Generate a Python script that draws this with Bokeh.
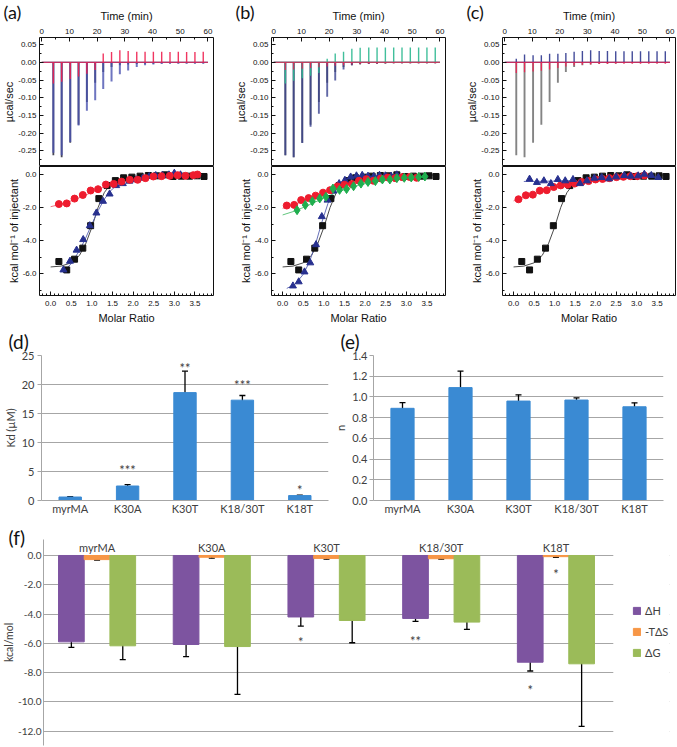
import numpy as np
from bokeh.plotting import figure
from bokeh.layouts import row, column
from bokeh.models import (ColumnDataSource, Range1d, FactorRange, FixedTicker, Title,
                          CustomJSTickFormatter, Whisker, TeeHead, Legend, LegendItem,
                          BoxAnnotation)
from bokeh.transform import dodge
from bokeh.core.properties import value
from bokeh.embed import file_html
from bokeh.resources import INLINE

# ---------------- data: ITC raw thermograms (peak of each injection, ucal/sec) -------------
inj_time = [4.2, 7.2, 10.3, 13.3, 16.3, 19.3, 22.2, 25.2, 28.2, 31.2, 34.3, 37.3, 40.3,
            43.3, 46.3, 49.3, 52.3, 55.3, 58.3]
run_span = [0, 60]
baseline_ucal = 0.0

raw_black = [-0.262, -0.268, -0.227, -0.176, -0.112, -0.058, -0.027, -0.013, -0.008, -0.006,
             -0.005, -0.004, -0.004, -0.003, -0.003, -0.003, -0.003, -0.003, -0.003]
a_raw_blue = [-0.255, -0.262, -0.225, -0.178, -0.137, -0.107, -0.075, -0.054, -0.034, -0.023,
              -0.013, -0.008, -0.006, -0.005, -0.004, -0.004, -0.004, -0.004, -0.004]
a_raw_red = [-0.060, -0.055, -0.047, -0.040, -0.032, -0.022, 0.025, 0.029, 0.034, 0.032,
             0.030, 0.030, 0.030, 0.030, 0.029, 0.030, 0.029, 0.029, 0.030]
b_raw_blue = [-0.262, -0.268, -0.228, -0.182, -0.145, -0.097, -0.051, -0.020, -0.008, -0.005,
              -0.004, -0.004, -0.003, -0.003, -0.003, -0.003, -0.003, -0.003, -0.003]
b_raw_green = [-0.060, -0.052, -0.045, -0.038, -0.030, 0.010, 0.025, 0.030, 0.038, 0.041,
               0.042, 0.042, 0.042, 0.042, 0.042, 0.042, 0.042, 0.042, 0.042]
b_raw_red = [-0.022, -0.020, -0.018, -0.016, -0.014, -0.012, -0.010, -0.008, -0.006, -0.005,
             -0.004, -0.004, -0.003, -0.003, -0.003, -0.003, -0.003, -0.003, -0.003]
c_raw_red = [-0.030, -0.028, -0.026, -0.024, -0.020, -0.016, -0.012, -0.009, -0.007, -0.006,
             -0.005, -0.005, -0.004, -0.004, -0.004, -0.004, -0.004, -0.004, -0.004]
c_raw_blue = [0.010, 0.022, 0.020, 0.020, 0.024, 0.024, 0.026, 0.030, 0.032, 0.034,
              0.032, 0.032, 0.031, 0.031, 0.031, 0.031, 0.031, 0.031, 0.031]

# ---------------- data: integrated heats (kcal/mol of injectant) vs molar ratio -----------
mr_black = [0.20, 0.39, 0.58, 0.78, 0.97, 1.17, 1.37, 1.57, 1.77, 1.97, 2.17, 2.37, 2.57,
            2.77, 2.97, 3.17, 3.37, 3.55, 3.72]
heat_black = [-5.27, -5.78, -5.13, -4.46, -3.10, -1.46, -0.67, -0.37, -0.20, -0.16, -0.10,
              -0.06, -0.08, -0.02, -0.12, -0.10, -0.10, -0.08, -0.12]
fit_black_x = [0.0, 0.25, 0.5, 0.7, 0.85, 1.0, 1.15, 1.3, 1.45, 1.6, 1.8, 2.0, 2.5, 3.0, 3.75]
fit_black_y = [-5.6, -5.55, -5.35, -4.9, -4.2, -3.2, -2.0, -1.1, -0.6, -0.35, -0.2, -0.12,
               -0.06, -0.04, -0.03]

a_mr_blue = [0.31, 0.47, 0.63, 0.79, 0.95, 1.11, 1.27, 1.43, 1.59, 1.75, 1.91, 2.07, 2.23,
             2.39, 2.55, 2.71, 2.87, 3.00, 3.15]
a_heat_blue = [-5.78, -5.25, -4.58, -3.94, -3.10, -2.33, -1.62, -1.18, -0.67, -0.55, -0.40,
               -0.32, -0.22, -0.12, -0.06, -0.05, -0.02, 0.08, -0.02]
a_fit_blue_x = [0.3, 0.5, 0.7, 0.85, 1.0, 1.15, 1.3, 1.45, 1.6, 1.8, 2.0, 2.5, 3.0, 3.2]
a_fit_blue_y = [-5.9, -5.4, -4.6, -3.85, -3.0, -2.2, -1.5, -1.0, -0.65, -0.4, -0.26, -0.1,
                -0.05, -0.04]
a_mr_red = [0.20, 0.39, 0.58, 0.78, 0.97, 1.15, 1.34, 1.53, 1.72, 1.92, 2.11, 2.30, 2.49,
            2.69, 2.89, 3.08, 3.27, 3.46, 3.56]
a_heat_red = [-1.79, -1.75, -1.46, -1.24, -0.97, -0.89, -0.61, -0.57, -0.43, -0.32, -0.32,
              -0.22, -0.12, -0.10, -0.08, -0.04, -0.08, -0.04, 0.0]
a_fit_red_x = [0.0, 0.25, 0.5, 0.75, 1.0, 1.25, 1.5, 1.75, 2.0, 2.5, 3.0, 3.6]
a_fit_red_y = [-1.95, -1.8, -1.6, -1.35, -1.08, -0.8, -0.57, -0.4, -0.28, -0.14, -0.07, -0.04]

b_mr_red = [0.10, 0.28, 0.45, 0.63, 0.80, 0.98, 1.15, 1.33, 1.50, 1.68, 1.85, 2.03, 2.20,
            2.38, 2.55, 2.73, 2.90, 3.08, 3.25]
b_heat_red = [-1.88, -1.84, -1.55, -1.43, -1.28, -1.10, -0.95, -0.72, -0.62, -0.58, -0.38,
              -0.28, -0.38, -0.24, -0.18, -0.22, -0.16, -0.15, -0.20]
b_fit_red_x = [0.0, 0.25, 0.5, 0.75, 1.0, 1.25, 1.5, 1.75, 2.0, 2.5, 3.0, 3.3]
b_fit_red_y = [-2.05, -1.85, -1.62, -1.38, -1.12, -0.88, -0.68, -0.52, -0.4, -0.24, -0.15, -0.12]
b_mr_green = [0.35, 0.55, 0.72, 0.90, 1.05, 1.22, 1.38, 1.55, 1.72, 1.90, 2.07, 2.25, 2.42,
              2.60, 2.77, 2.95, 3.12, 3.30, 3.45]
b_heat_green = [-2.16, -1.85, -1.62, -1.45, -1.35, -0.85, -0.93, -0.88, -0.71, -0.55, -0.45,
                -0.40, -0.30, -0.30, -0.22, -0.20, -0.18, -0.15, -0.12]
b_fit_green_x = [0.0, 0.25, 0.5, 0.75, 1.0, 1.25, 1.5, 1.75, 2.0, 2.5, 3.0, 3.5]
b_fit_green_y = [-2.45, -2.25, -2.0, -1.72, -1.42, -1.15, -0.92, -0.72, -0.56, -0.35, -0.23, -0.17]
b_mr_blue = [0.25, 0.39, 0.53, 0.67, 0.81, 0.95, 1.09, 1.23, 1.37, 1.51, 1.65, 1.79, 1.93,
             2.07, 2.21, 2.35, 2.49, 2.63, 2.77]
b_heat_blue = [-6.75, -6.50, -5.90, -5.35, -4.25, -2.55, -1.55, -1.00, -0.55, -0.35, -0.15,
               -0.08, -0.05, -0.10, -0.12, -0.05, -0.08, -0.10, -0.02]
b_fit_blue_x = [0.1, 0.3, 0.5, 0.65, 0.8, 0.95, 1.1, 1.25, 1.4, 1.6, 1.8, 2.2, 2.8]
b_fit_blue_y = [-6.9, -6.65, -6.05, -5.3, -4.2, -2.9, -1.75, -0.95, -0.5, -0.22, -0.1, -0.05, -0.03]

c_mr_red = [0.12, 0.30, 0.47, 0.64, 0.81, 0.98, 1.15, 1.32, 1.49, 1.66, 1.83, 2.00, 2.17,
            2.34, 2.51, 2.68, 2.85, 3.02, 3.19]
c_heat_red = [-1.50, -1.26, -1.22, -0.98, -0.95, -0.76, -0.66, -0.62, -0.55, -0.45, -0.40,
              -0.30, -0.27, -0.22, -0.16, -0.14, -0.10, -0.10, -0.06]
c_fit_red_x = [0.0, 0.25, 0.5, 0.75, 1.0, 1.25, 1.5, 2.0, 2.5, 3.0, 3.3]
c_fit_red_y = [-1.6, -1.38, -1.18, -1.0, -0.84, -0.7, -0.57, -0.37, -0.23, -0.14, -0.11]
c_mr_blue = [0.39, 0.57, 0.74, 0.91, 1.08, 1.26, 1.45, 1.62, 1.79, 1.97, 2.15, 2.33, 2.50,
             2.70, 2.86, 3.04, 3.19, 3.36, 3.53]
c_heat_blue = [-0.28, -0.48, -0.38, -0.55, -0.30, -0.38, -0.30, -0.55, -0.38, -0.22, -0.18,
               -0.26, -0.14, -0.06, -0.10, -0.08, 0.02, -0.06, -0.18]
c_fit_blue_x = [0.25, 0.5, 1.0, 1.5, 2.0, 2.5, 3.0, 3.6]
c_fit_blue_y = [-0.42, -0.42, -0.4, -0.36, -0.3, -0.22, -0.16, -0.12]

# ---------------- data: bar charts ----------------
cats = ["myrMA", "K30A", "K30T", "K18/30T", "K18T"]
kd_vals = [0.6, 2.5, 18.6, 17.3, 0.85]
kd_err = [0.05, 0.25, 3.7, 0.8, 0.08]
kd_star_cat = ["K30A", "K30T", "K18/30T", "K18T"]
kd_star_y = [5.9, 23.6, 20.6, 2.5]
kd_star_txt = ["***", "**", "***", "*"]

n_vals = [0.89, 1.09, 0.96, 0.97, 0.905]
n_err = [0.055, 0.16, 0.06, 0.02, 0.038]

dH = [-5.90, -6.08, -4.20, -4.30, -7.29]
dH_err = [0.37, 0.83, 0.62, 0.20, 0.60]
TdS = [-0.28, -0.12, -0.20, -0.22, -0.08]
TdS_err = [0.03, 0.06, 0.05, 0.03, 0.05]
dG = [-6.17, -6.22, -4.44, -4.55, -7.40]
dG_err = [0.95, 3.27, 1.52, 0.50, 4.28]
dH_star_cat = ["K30T", "K18/30T", "K18T"]
dH_star_y = [-5.63, -5.6, -8.93]
dH_star_txt = ["*", "**", "*"]
TdS_star_cat = ["K18T"]
TdS_star_y = [-0.96]
TdS_star_txt = ["*"]

# ---------------- styles ----------------
ITC_FONT = "Liberation Sans"
XL_FONT = "Lato"
TXT = "#404040"
GRID = "#a6a6a6"
BAR_BLUE = "#3a8ad3"
PURPLE = "#7d54a0"
ORANGE = "#f79646"
GREEN = "#9bbb59"
C_BLACK = "#111111"
C_BLUE = "#27308f"
C_RED = "#ee1c2e"
C_GREEN = "#1fae4e"


def fixed_fmt(decimals):
    return CustomJSTickFormatter(args=dict(d=decimals), code="return Number(tick).toFixed(d);")


def add_title(p, text, size, offset, standoff, valign):
    p.add_layout(Title(text=text, align="left", offset=offset, standoff=standoff,
                       vertical_align=valign, text_font=XL_FONT, text_font_size=f"{size}px",
                       text_font_style="normal", text_color="#111111"), "above")


def itc_axis(ax, ticks, minor, decimals, label, tstand, lstand):
    ax.ticker = FixedTicker(ticks=ticks, minor_ticks=minor)
    ax.formatter = fixed_fmt(decimals)
    ax.major_tick_in = 4
    ax.major_tick_out = 0
    ax.minor_tick_in = 2
    ax.minor_tick_out = 0
    ax.major_tick_line_color = C_BLACK
    ax.minor_tick_line_color = C_BLACK
    ax.axis_line_color = None
    ax.major_label_standoff = tstand
    ax.major_label_text_font = ITC_FONT
    ax.major_label_text_font_size = "8px"
    ax.major_label_text_color = C_BLACK
    ax.axis_label = label
    ax.axis_label_text_font = ITC_FONT
    ax.axis_label_text_font_size = "11px"
    ax.axis_label_text_font_style = "normal"
    ax.axis_label_text_color = C_BLACK
    ax.axis_label_standoff = lstand


def itc_top(fig_w, left, frame_w, letter, traces):
    p = figure(width=fig_w, height=166, x_range=Range1d(-0.8, 62), y_range=Range1d(-0.294, 0.07),
               x_axis_location="above", output_backend="svg", toolbar_location=None,
               min_border_left=left, min_border_right=fig_w - left - frame_w,
               min_border_top=37, min_border_bottom=0)
    p.outline_line_color = C_BLACK
    p.grid.visible = False
    itc_axis(p.xaxis[0], list(range(0, 61, 10)), list(range(5, 60, 10)), 0, "Time (min)", 4, 4)
    itc_axis(p.yaxis[0], [round(float(v), 2) for v in np.arange(-0.25, 0.051, 0.05)],
             [round(float(v), 3) for v in np.arange(-0.275, 0.07, 0.05)], 2, "µcal/sec", 3, 0)
    for vals, color, w, alpha in traces:
        p.line(run_span, [baseline_ucal] * 2, line_color=color, line_width=1.0, line_alpha=alpha)
        p.segment(x0=inj_time, y0=[baseline_ucal] * len(inj_time), x1=inj_time, y1=vals,
                  line_color=color, line_width=w, line_alpha=alpha)
    add_title(p, letter, 18, -36, -32, "bottom")
    return p


def itc_bottom(fig_w, left, frame_w, series, fits):
    p = figure(width=fig_w, height=161, x_range=Range1d(-0.27, 3.95), y_range=Range1d(-7.33, 0.485),
               output_backend="svg", toolbar_location=None,
               min_border_left=left, min_border_right=fig_w - left - frame_w,
               min_border_top=0, min_border_bottom=32)
    p.outline_line_color = C_BLACK
    p.grid.visible = False
    itc_axis(p.xaxis[0], [round(float(v), 1) for v in np.arange(0, 3.51, 0.5)],
             [round(float(v), 2) for v in np.arange(-0.2, 3.95, 0.1)], 1, "Molar Ratio", 5, 3)
    itc_axis(p.yaxis[0], [-6, -4, -2, 0], [-7, -5, -3, -1], 1,
             "kcal mol\u207b\u00b9 of injectant", 3, 0)
    for fx, fy, color in fits:
        p.line(fx, fy, line_color=color, line_width=0.9)
    for xs, ys, marker, size, color in series:
        p.scatter(xs, ys, marker=marker, size=size, fill_color=color, line_color=color)
    return p


# ---- (a) ----
topA = itc_top(232, 39, 174, "(a)", [(raw_black, "#333344", 1.8, 0.9),
                                     (a_raw_blue, "#4a52b0", 2.0, 0.8),
                                     (a_raw_red, "#ee2050", 1.4, 0.9)])
botA = itc_bottom(232, 39, 174,
                  [(mr_black, heat_black, "square", 6, C_BLACK),
                   (a_mr_blue, a_heat_blue, "triangle", 7, C_BLUE),
                   (a_mr_red, a_heat_red, "circle", 7, C_RED)],
                  [(fit_black_x, fit_black_y, "#333333"),
                   (a_fit_blue_x, a_fit_blue_y, "#5560b0"),
                   (a_fit_red_x, a_fit_red_y, "#f06070")])
# ---- (b) ----
topB = itc_top(231, 39, 174, "(b)", [(raw_black, "#555555", 1.8, 0.9),
                                     (b_raw_blue, "#3a4290", 1.9, 0.8),
                                     (b_raw_green, "#2cb890", 1.4, 0.9),
                                     (b_raw_red, "#ee2050", 1.1, 0.9)])
botB = itc_bottom(231, 39, 174,
                  [(mr_black, heat_black, "square", 6, C_BLACK),
                   (b_mr_blue, b_heat_blue, "triangle", 7, C_BLUE),
                   (b_mr_red, b_heat_red, "circle", 7, C_RED),
                   (b_mr_green, b_heat_green, "diamond", 9, C_GREEN)],
                  [(fit_black_x, fit_black_y, "#333333"),
                   (b_fit_blue_x, b_fit_blue_y, "#5560b0"),
                   (b_fit_red_x, b_fit_red_y, "#f06070"),
                   (b_fit_green_x, b_fit_green_y, "#50c070")])
# ---- (c) ----
topC = itc_top(214, 38, 174, "(c)", [(raw_black, "#777777", 1.9, 0.9),
                                     (c_raw_blue, "#30388f", 1.4, 0.9),
                                     (c_raw_red, "#ee2050", 1.3, 0.9)])
botC = itc_bottom(214, 38, 174,
                  [(mr_black, heat_black, "square", 6, C_BLACK),
                   (c_mr_red, c_heat_red, "circle", 7, C_RED),
                   (c_mr_blue, c_heat_blue, "triangle", 7, C_BLUE)],
                  [(fit_black_x, fit_black_y, "#333333"),
                   (c_fit_red_x, c_fit_red_y, "#f06070"),
                   (c_fit_blue_x, c_fit_blue_y, "#5560b0")])


def xl_style(p, ticks, decimals, label, tick_out=4, standoff=2, ysize="11px"):
    p.outline_line_color = None
    p.xgrid.grid_line_color = None
    p.ygrid.grid_line_color = GRID
    p.ygrid.grid_line_width = 1
    for ax in p.axis:
        ax.axis_line_color = GRID
        ax.major_label_text_font = XL_FONT
        ax.major_label_text_color = TXT
        ax.minor_tick_line_color = None
    if p.xaxis:
        xa = p.xaxis[0]
        xa.major_tick_line_color = None
        xa.major_tick_out = 0
        xa.major_label_text_font_size = "11px"
        xa.major_label_standoff = 1
    ya = p.yaxis[0]
    ya.ticker = FixedTicker(ticks=ticks)
    ya.formatter = fixed_fmt(decimals)
    ya.major_tick_line_color = GRID if tick_out else None
    ya.major_tick_out = tick_out
    ya.major_tick_in = 0
    ya.major_label_standoff = standoff
    ya.major_label_text_font_size = ysize
    ya.axis_label = label
    ya.axis_label_text_font = XL_FONT
    ya.axis_label_text_font_size = "11px"
    ya.axis_label_text_font_style = "normal"
    ya.axis_label_text_color = TXT
    ya.axis_label_standoff = 2


def err_cols(vals, errs):
    return ([v + e for v, e in zip(vals, errs)], [v - e for v, e in zip(vals, errs)])


def whisk(p, src, base, upper="up", lower="lo"):
    p.add_layout(Whisker(source=src, base=base, upper=upper, lower=lower, line_color="black",
                         line_width=1.3,
                         upper_head=TeeHead(size=6, line_color="black", line_width=1.3),
                         lower_head=TeeHead(size=6, line_color="black", line_width=1.3)))


def stars(p, xspec, src):
    p.text(x=xspec, y="y", text="t", source=src,
           text_align="center", text_baseline="middle", text_font=value(XL_FONT),
           text_font_size="13px", text_color=TXT, y_offset=4)


# ---- (d) ----
pD = figure(width=331, height=190, x_range=FactorRange(*cats), y_range=Range1d(0, 25),
            output_backend="svg", toolbar_location=None,
            min_border_left=35, min_border_right=3, min_border_top=28, min_border_bottom=14)
xl_style(pD, [0, 5, 10, 15, 20, 25], 0, "Kd (µM)", standoff=3)
up, lo = err_cols(kd_vals, kd_err)
sD = ColumnDataSource(dict(cat=cats, v=kd_vals, up=up, lo=lo))
pD.vbar(x="cat", top="v", width=0.39, source=sD, fill_color=BAR_BLUE, line_color=BAR_BLUE)
whisk(pD, sD, "cat")
stars(pD, "cat", ColumnDataSource(dict(cat=kd_star_cat, y=kd_star_y, t=kd_star_txt)))
add_title(pD, "(d)", 19, -33, 2, "top")

# ---- (e) ----
pE = figure(width=346, height=190, x_range=FactorRange(*cats), y_range=Range1d(0, 1.4),
            output_backend="svg", toolbar_location=None,
            min_border_left=37, min_border_right=14, min_border_top=28, min_border_bottom=14)
xl_style(pE, [0.0, 0.2, 0.4, 0.6, 0.8, 1.0, 1.2, 1.4], 1, "n", standoff=2)
up, lo = err_cols(n_vals, n_err)
sE = ColumnDataSource(dict(cat=cats, v=n_vals, up=up, lo=lo))
pE.vbar(x="cat", top="v", width=0.4, source=sE, fill_color=BAR_BLUE, line_color=BAR_BLUE)
whisk(pE, sE, "cat")
add_title(pE, "(e)", 19, -33, 2, "top")

# ---- (f) ----  numeric group positions, category names drawn from `cats`
grp_x = list(range(len(cats)))
cat_pos = dict(zip(cats, grp_x))
GROUP_END = len(cats) - 0.5          # right end of the last group slot (gridlines stop here)
cat_label_y = 0.55                   # label row just above the zero line
pF = figure(width=677, height=230, x_range=Range1d(-0.467, 4.99), y_range=Range1d(-12.98, 1.093),
            x_axis_location=None, output_backend="svg", toolbar_location=None,
            min_border_left=38, min_border_right=8, min_border_top=22, min_border_bottom=2)
xl_style(pF, list(range(-12, 1, 2)), 1, "kcal/mol", tick_out=0, standoff=2, ysize="10px")
pF.yaxis[0].axis_label_standoff = 0
pF.yaxis[0].axis_label_text_font_size = "10.5px"
hUp, hLo = err_cols(dH, dH_err)
sUp, sLo = err_cols(TdS, TdS_err)
gUp, gLo = err_cols(dG, dG_err)
sF = ColumnDataSource(dict(x=grp_x, dH=dH, TdS=TdS, dG=dG, dH_up=hUp, dH_lo=hLo,
                           TdS_up=sUp, TdS_lo=sLo, dG_up=gUp, dG_lo=gLo))
OFF = 0.224
BW = 0.224
rH = pF.vbar(x=dodge("x", -OFF), top="dH", bottom=0, width=BW, source=sF,
             fill_color=PURPLE, line_color=PURPLE)
rS = pF.vbar(x=dodge("x", 0), top="TdS", bottom=0, width=BW, source=sF,
             fill_color=ORANGE, line_color=ORANGE)
rG = pF.vbar(x=dodge("x", OFF), top="dG", bottom=0, width=BW, source=sF,
             fill_color=GREEN, line_color=GREEN)
for key, off in (("dH", -OFF), ("TdS", 0), ("dG", OFF)):
    whisk(pF, sF, dodge("x", off), key + "_up", key + "_lo")
stars(pF, dodge("x", -OFF),
      ColumnDataSource(dict(x=[cat_pos[c] for c in dH_star_cat], y=dH_star_y, t=dH_star_txt)))
stars(pF, dodge("x", 0),
      ColumnDataSource(dict(x=[cat_pos[c] for c in TdS_star_cat], y=TdS_star_y, t=TdS_star_txt)))
pF.text(x="x", y="y", text="t",
        source=ColumnDataSource(dict(x=grp_x, y=[cat_label_y] * len(cats), t=cats)),
        text_align="center", text_baseline="middle", text_font=value(XL_FONT),
        text_font_size="11px", text_color=TXT)
pF.add_layout(BoxAnnotation(left=GROUP_END, fill_color="white", fill_alpha=1.0,
                            line_alpha=0))
leg = Legend(items=[LegendItem(label="\u0394H", renderers=[rH]),
                    LegendItem(label="-T\u0394S", renderers=[rS]),
                    LegendItem(label="\u0394G", renderers=[rG])],
             location=(589, 86), glyph_width=9, glyph_height=9, label_height=13,
             spacing=8, padding=0, margin=0, label_standoff=4,
             label_text_font=XL_FONT, label_text_font_size="11px", label_text_color=TXT,
             border_line_color=None, background_fill_alpha=0)
pF.add_layout(leg)
add_title(pF, "(f)", 19, -35, -19, "bottom")

layout = column(row(column(topA, botA), column(topB, botB), column(topC, botC)),
                row(pD, pE), pF)

with open("out.html", "w") as fh:
    fh.write(file_html(layout, INLINE))
